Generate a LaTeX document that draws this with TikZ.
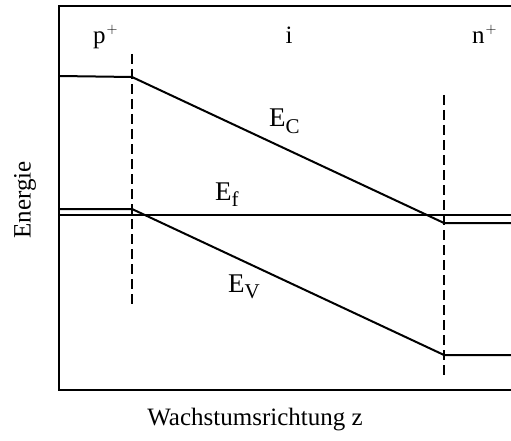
\documentclass[tikz,border=0pt]{standalone}
\usepackage{fontspec}
\setmainfont{Liberation Serif}
\newcommand{\supplus}{\kern1pt\raisebox{10pt}{\fontsize{15}{15}\selectfont$+$}}
\newcommand{\bsub}[1]{\raisebox{-6pt}{\fontsize{21}{21}\selectfont #1}}
\begin{document}
\begin{tikzpicture}[x=1pt,y=-1pt,
  band/.style={line width=2pt},
  frame/.style={line width=2.4pt},
  sep/.style={line width=2pt, dash pattern=on 10pt off 5pt},
  lbl/.style={font=\fontsize{25}{28}\selectfont, inner sep=0pt},
  elbl/.style={font=\fontsize{27}{30}\selectfont, inner sep=0pt, anchor=base west}]
\useasboundingbox (0,0) rectangle (511,441);
% frame
\coordinate (tl) at (59,6);
\coordinate (tr) at (511,6);
\coordinate (bl) at (59,390);
\coordinate (br) at (511,390);
\draw[frame] (tr) -- (tl) -- (bl) -- (br);
% separators
\coordinate (d1t) at (132,54);
\coordinate (d1b) at (132,306);
\coordinate (d2t) at (444,95);
\coordinate (d2b) at (444,376);
\draw[sep] (d1t) -- (d1b);
\draw[sep] (d2t) -- (d2b);
% E_C
\coordinate (c0) at (59,76);
\coordinate (c1) at (132,77);
\coordinate (c2) at (444,223);
\coordinate (c3) at (511,223);
\draw[band] (c0) -- (c1) -- (c2) -- (c3);
% E_f
\coordinate (f0) at (59,215);
\coordinate (f1) at (511,215);
\draw[band] (f0) -- (f1);
% E_V
\coordinate (v0) at (59,209);
\coordinate (v1) at (132,209);
\coordinate (v2) at (444,355);
\coordinate (v3) at (511,355);
\draw[band] (v0) -- (v1) -- (v2) -- (v3);
% labels
\node[lbl, anchor=base west] (p) at (93,44) {p\supplus};
\node[lbl, anchor=base] (i) at (289,44) {i};
\node[lbl, anchor=base west] (n) at (472,44) {n\supplus};
\node[elbl] (ec) at (269,127) {E\bsub{C}};
\node[elbl] (ef) at (215,200) {E\bsub{f}};
\node[elbl] (ev) at (228,292) {E\bsub{V}};
\node[lbl, rotate=90] (en) at (25,200) {Energie};
\node[lbl] (wz) at (255,420) {Wachstumsrichtung z};
\end{tikzpicture}
\end{document}
